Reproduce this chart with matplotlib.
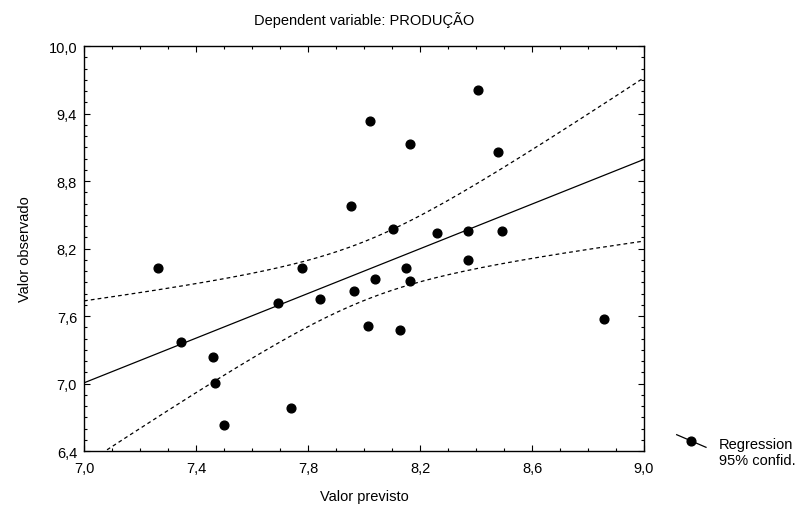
import numpy as np
import matplotlib
matplotlib.use('Agg')
import matplotlib.pyplot as plt
from matplotlib.lines import Line2D
from matplotlib.ticker import FixedLocator, FuncFormatter

plt.rcParams['font.family'] = ['Liberation Sans', 'DejaVu Sans']

# valores (previsto, observado)
previsto = [8.023, 8.163, 7.954, 8.104, 8.260, 8.406, 8.480, 8.373, 8.493,
            7.265, 7.780, 8.040, 8.151, 8.164, 7.693, 7.844, 7.965, 8.013,
            8.130, 7.348, 7.462, 7.467, 7.738, 7.499, 8.373, 8.857]
observado = [9.331, 9.132, 8.580, 8.370, 8.335, 9.609, 9.058, 8.358, 8.353,
             8.024, 8.024, 7.932, 8.024, 7.914, 7.716, 7.754, 7.825, 7.514,
             7.476, 7.366, 7.238, 7.007, 6.782, 6.634, 8.095, 7.571]
x_ticks = [7.0, 7.4, 7.8, 8.2, 8.6, 9.0]
y_ticks = [6.4, 7.0, 7.6, 8.2, 8.8, 9.4, 10.0]
t_crit = 2.064  # t(0.975, n-2)

x = np.array(previsto)
y = np.array(observado)
n_pts = len(x)

# regression + 95% band for the mean
b, a = np.polyfit(x, y, 1)
res = y - (a + b * x)
s = np.sqrt(np.sum(res ** 2) / (n_pts - 2))
sxx = np.sum((x - x.mean()) ** 2)
xx = np.linspace(x_ticks[0], x_ticks[-1], 200)
yy = a + b * xx
half = t_crit * s * np.sqrt(1.0 / n_pts + (xx - x.mean()) ** 2 / sxx)

fig = plt.figure(figsize=(8.1, 5.06), dpi=100)
ax = fig.add_axes([0.1037, 0.1067, 0.6914, 0.8004])

ax.plot(xx, yy, color='black', lw=0.9)
ax.plot(xx, yy + half, color='black', lw=0.9, linestyle=(0, (3, 2.5)))
ax.plot(xx, yy - half, color='black', lw=0.9, linestyle=(0, (3, 2.5)))
ax.plot(x, y, 'o', color='black', ms=6.3, clip_on=False)

ax.set_xlim(x_ticks[0], x_ticks[-1])
ax.set_ylim(y_ticks[0], y_ticks[-1])
ax.xaxis.set_major_locator(FixedLocator(x_ticks))
ax.yaxis.set_major_locator(FixedLocator(y_ticks))
ax.xaxis.set_minor_locator(FixedLocator(np.arange(70, 91) / 10.0))
ax.yaxis.set_minor_locator(FixedLocator(np.arange(64, 101) / 10.0))
fmt = FuncFormatter(lambda v, p: ('%.1f' % v).replace('.', ','))
ax.xaxis.set_major_formatter(fmt)
ax.yaxis.set_major_formatter(fmt)
ax.tick_params(which='both', direction='in', top=True, right=True,
               labelsize=10.5, width=0.8)
ax.tick_params(which='major', length=4)
ax.tick_params(axis='x', which='major', pad=7)
ax.tick_params(axis='y', which='major', pad=5)
ax.tick_params(which='minor', length=2.5)
for sp in ax.spines.values():
    sp.set_linewidth(1.0)

ax.set_xlabel('Valor previsto', fontsize=10.5, labelpad=10)
ax.set_ylabel('Valor observado', fontsize=10.5, labelpad=12)
ax.set_title('Dependent variable: PRODUÇÃO', fontsize=10.5, pad=16)

# legend outside, lower right
fig.add_artist(Line2D([676.7 / 810, 706 / 810], [1 - 435.7 / 506, 1 - 448.3 / 506],
                      color='black', lw=0.9))
fig.add_artist(Line2D([691 / 810], [1 - 441.7 / 506], marker='o', color='black', ms=6.3))
fig.text(719 / 810, 1 - 445 / 506, 'Regression', fontsize=10.5, va='center')
fig.text(719 / 810, 1 - 461 / 506, '95% confid.', fontsize=10.5, va='center')

fig.savefig('out.png', dpi=100)
